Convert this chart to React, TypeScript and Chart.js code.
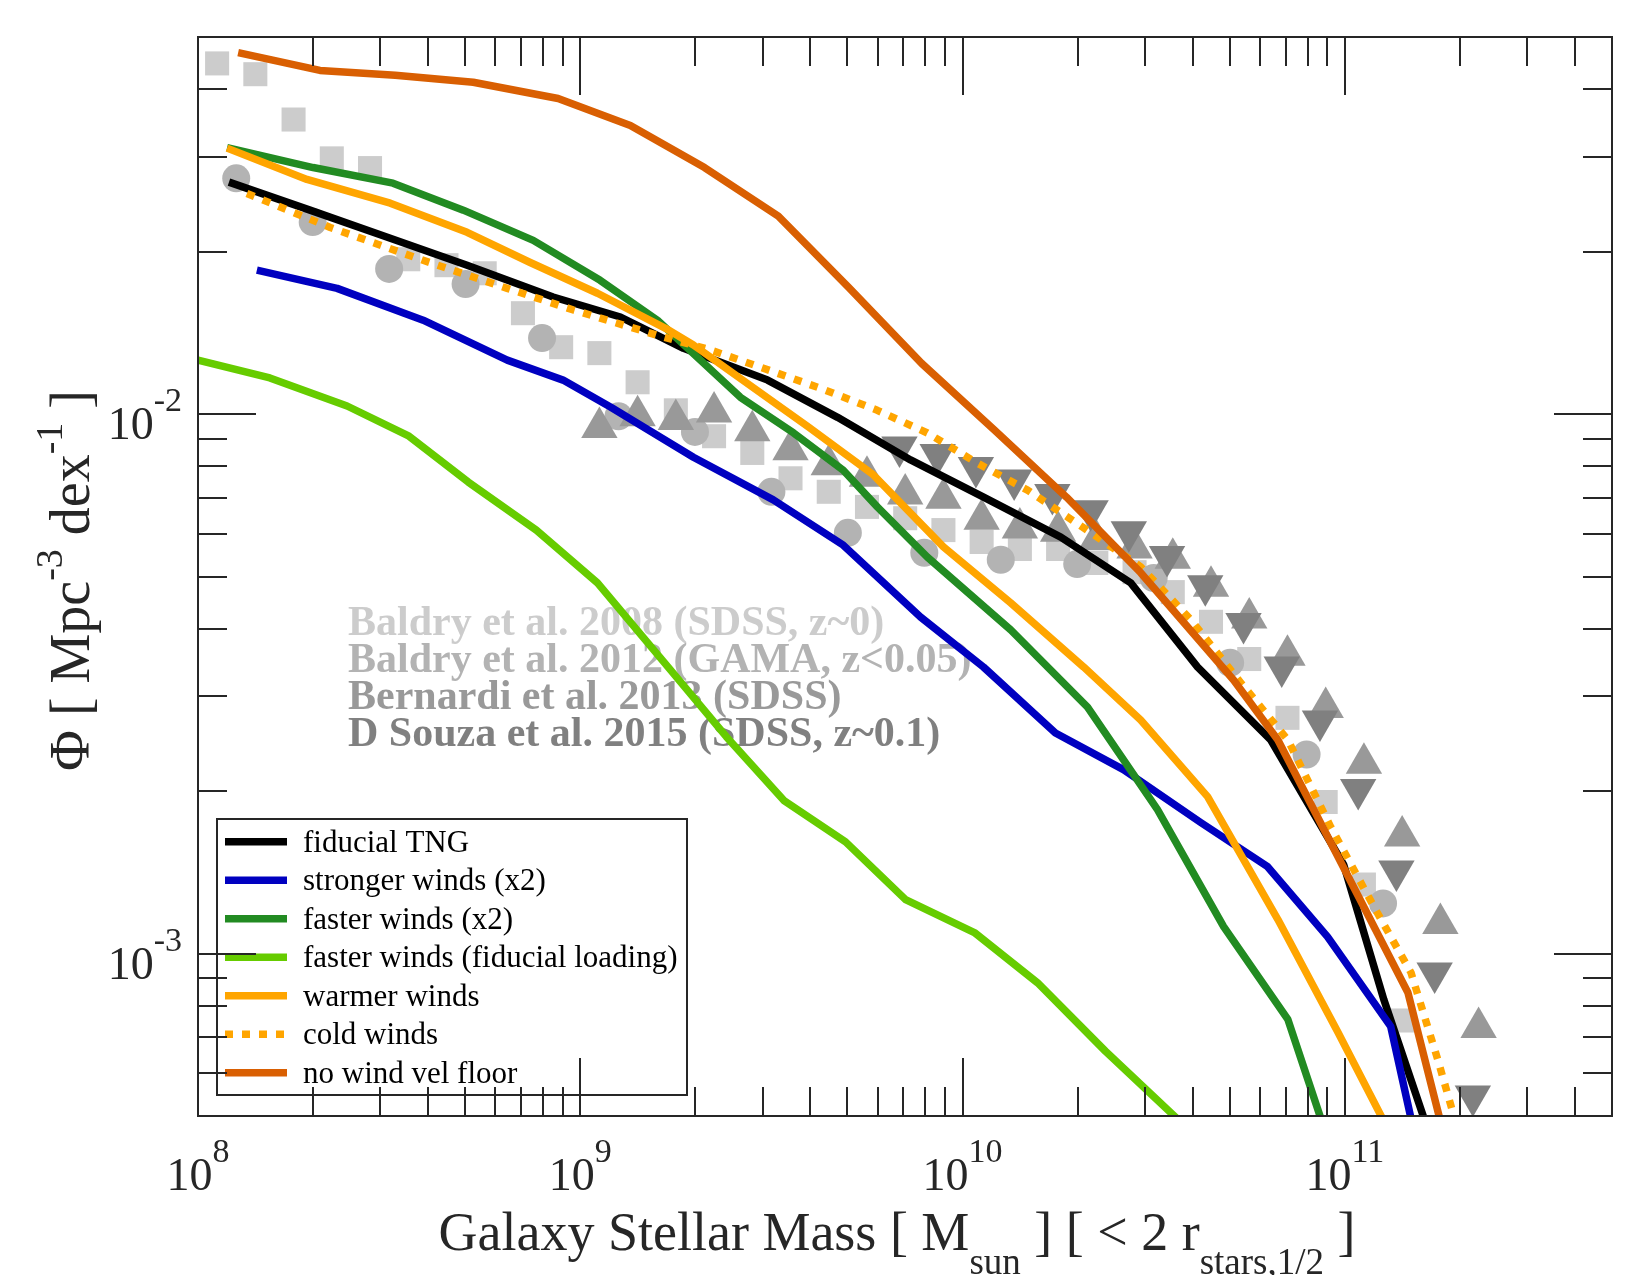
import { useEffect, useRef } from 'react';
import { Chart, registerables } from 'chart.js';

Chart.register(...registerables);

const SERIF = '"Liberation Serif", "Times New Roman", serif';

// ---- simulation runs: log10 M* [Msun] and log10 Phi [Mpc^-3 dex^-1] ----
const fiducialLogM = [8.081, 8.293, 8.503, 8.704, 8.929, 9.105, 9.27, 9.49, 9.673, 9.864, 10.055, 10.257, 10.44, 10.615, 10.806, 10.997, 11.102, 11.207];
const fiducialLogPhi = [-1.57, -1.622, -1.674, -1.724, -1.783, -1.82, -1.878, -1.937, -2.006, -2.085, -2.154, -2.228, -2.313, -2.469, -2.604, -2.835, -3.085, -3.305];

const strongerLogM = [8.154, 8.364, 8.589, 8.809, 8.955, 9.079, 9.296, 9.505, 9.688, 9.89, 10.055, 10.243, 10.421, 10.623, 10.798, 10.955, 11.12, 11.173];
const strongerLogPhi = [-1.733, -1.767, -1.826, -1.9, -1.937, -1.987, -2.08, -2.159, -2.243, -2.376, -2.469, -2.591, -2.659, -2.757, -2.839, -2.969, -3.135, -3.305];

const fasterLogM = [8.076, 8.301, 8.51, 8.694, 8.877, 9.052, 9.202, 9.419, 9.558, 9.688, 9.777, 9.908, 10.126, 10.327, 10.51, 10.683, 10.851, 10.937];
const fasterLogPhi = [-1.506, -1.543, -1.572, -1.622, -1.678, -1.752, -1.826, -1.969, -2.035, -2.104, -2.172, -2.265, -2.4, -2.543, -2.733, -2.95, -3.122, -3.305];

const fasterFidLoadLogM = [8.0, 8.188, 8.39, 8.552, 8.707, 8.885, 9.045, 9.243, 9.382, 9.534, 9.694, 9.851, 10.031, 10.196, 10.374, 10.56];
const fasterFidLoadLogPhi = [-1.9, -1.933, -1.985, -2.041, -2.126, -2.215, -2.313, -2.48, -2.598, -2.717, -2.793, -2.9, -2.961, -3.054, -3.181, -3.305];

const warmerLogM = [8.076, 8.285, 8.503, 8.704, 8.869, 9.045, 9.223, 9.296, 9.597, 9.764, 9.95, 10.126, 10.317, 10.466, 10.641, 10.825, 10.982, 11.098];
const warmerLogPhi = [-1.507, -1.565, -1.609, -1.663, -1.719, -1.776, -1.841, -1.872, -2.024, -2.111, -2.246, -2.35, -2.469, -2.567, -2.709, -2.937, -3.146, -3.305];

const coldLogM = [8.128, 8.346, 8.589, 8.809, 8.982, 9.202, 9.34, 9.471, 9.628, 9.777, 9.908, 10.039, 10.17, 10.317, 10.466, 10.597, 10.728, 10.851, 10.963, 11.076, 11.173, 11.243, 11.287];
const coldLogPhi = [-1.591, -1.654, -1.715, -1.767, -1.807, -1.854, -1.881, -1.913, -1.952, -1.993, -2.035, -2.091, -2.141, -2.211, -2.283, -2.381, -2.498, -2.604, -2.765, -2.913, -3.035, -3.196, -3.305];

const noVelFloorLogM = [8.105, 8.319, 8.516, 8.72, 8.942, 9.131, 9.325, 9.518, 9.702, 9.893, 10.084, 10.272, 10.466, 10.709, 10.825, 11.165, 11.248];
const noVelFloorLogPhi = [-1.33, -1.363, -1.372, -1.385, -1.415, -1.465, -1.543, -1.633, -1.765, -1.906, -2.03, -2.154, -2.294, -2.493, -2.604, -3.072, -3.305];

// ---- observational stellar mass functions ----
const baldry08LogM = [8.05, 8.15, 8.25, 8.35, 8.45, 8.55, 8.65, 8.75, 8.85, 8.95, 9.05, 9.15, 9.25, 9.35, 9.45, 9.55, 9.65, 9.75, 9.85, 9.95, 10.05, 10.15, 10.25, 10.35, 10.45, 10.55, 10.65, 10.75, 10.85, 10.95, 11.05, 11.15];
const baldry08LogPhi = [-1.35, -1.37, -1.454, -1.526, -1.544, -1.713, -1.724, -1.739, -1.813, -1.876, -1.887, -1.941, -1.993, -2.041, -2.072, -2.119, -2.144, -2.172, -2.193, -2.215, -2.237, -2.25, -2.25, -2.276, -2.293, -2.33, -2.385, -2.454, -2.563, -2.719, -2.872, -3.124];

const baldry12LogM = [8.1, 8.3, 8.5, 8.7, 8.9, 9.1, 9.3, 9.5, 9.7, 9.9, 10.1, 10.3, 10.5, 10.7, 10.9, 11.1];
const baldry12LogPhi = [-1.563, -1.644, -1.731, -1.759, -1.859, -2.004, -2.033, -2.144, -2.22, -2.257, -2.27, -2.278, -2.304, -2.461, -2.631, -2.907];

const bernardi13LogM = [9.05, 9.15, 9.25, 9.35, 9.45, 9.55, 9.65, 9.75, 9.85, 9.95, 10.05, 10.15, 10.25, 10.35, 10.45, 10.55, 10.65, 10.75, 10.85, 10.95, 11.05, 11.15, 11.25, 11.35];
const bernardi13LogPhi = [-2.025, -2.003, -2.01, -1.996, -2.031, -2.066, -2.094, -2.115, -2.148, -2.156, -2.195, -2.211, -2.217, -2.233, -2.248, -2.267, -2.319, -2.378, -2.447, -2.544, -2.647, -2.782, -2.944, -3.137];

const dsouza15LogM = [9.835, 9.935, 10.035, 10.135, 10.235, 10.335, 10.435, 10.535, 10.635, 10.735, 10.835, 10.935, 11.035, 11.135, 11.235, 11.335];
const dsouza15LogPhi = [-2.061, -2.075, -2.099, -2.122, -2.149, -2.179, -2.218, -2.264, -2.318, -2.388, -2.469, -2.569, -2.696, -2.847, -3.036, -3.264];

// ---- labels and axis ticks ----
const runLabels = ['fiducial TNG', 'stronger winds (x2)', 'faster winds (x2)', 'faster winds (fiducial loading)', 'warmer winds', 'cold winds', 'no wind vel floor'];
const runColors = ['#000000', '#0000c0', '#228b22', '#66cc00', '#ffa500', '#ffa500', '#d95f02'];
const obsLabels = ['Baldry et al. 2008 (SDSS, z~0)', 'Baldry et al. 2012 (GAMA, z<0.05)', 'Bernardi et al. 2013 (SDSS)', 'D Souza et al. 2015 (SDSS, z~0.1)'];
const obsColors = ['#cccccc', '#b3b3b3', '#999999', '#808080'];
const xMajorTicks = [1e8, 1e9, 1e10, 1e11];
const yMajorTicks = [1e-3, 1e-2];
const X_MIN = 1e8;
const X_MAX = 5e11;
const Y_MIN = 5e-4;
const Y_MAX = 5e-2;

const LINE_W = 7.5;

const toXY = (lm: number[], lp: number[]) => lm.map((m, i) => ({ x: Math.pow(10, m), y: Math.pow(10, lp[i]) }));

const runData = [
  toXY(fiducialLogM, fiducialLogPhi),
  toXY(strongerLogM, strongerLogPhi),
  toXY(fasterLogM, fasterLogPhi),
  toXY(fasterFidLoadLogM, fasterFidLoadLogPhi),
  toXY(warmerLogM, warmerLogPhi),
  toXY(coldLogM, coldLogPhi),
  toXY(noVelFloorLogM, noVelFloorLogPhi),
];
const DOTTED = [8, 9];
const runDash = [[], [], [], [], [], DOTTED, []];

type Run = { text: string; size: number; dy: number };

function drawRuns(ctx: CanvasRenderingContext2D, runs: Run[], x: number, y: number, align: 'left' | 'center' | 'right', weight = 'normal') {
  let total = 0;
  const widths = runs.map((r) => {
    ctx.font = `${weight} ${r.size}px ${SERIF}`;
    const w = ctx.measureText(r.text).width;
    total += w;
    return w;
  });
  let cx = align === 'center' ? x - total / 2 : align === 'right' ? x - total : x;
  ctx.textAlign = 'left';
  ctx.textBaseline = 'alphabetic';
  runs.forEach((r, i) => {
    ctx.font = `${weight} ${r.size}px ${SERIF}`;
    ctx.fillText(r.text, cx, y + r.dy);
    cx += widths[i];
  });
}

function logTicks(min: number, max: number) {
  const out: { v: number; major: boolean }[] = [];
  for (let e = Math.floor(Math.log10(min)); e <= Math.ceil(Math.log10(max)); e++) {
    for (let m = 1; m <= 9; m++) {
      const v = m * Math.pow(10, e);
      if (v > min * 1.0001 && v < max * 0.9999) out.push({ v, major: m === 1 });
    }
  }
  return out;
}

const FRAME = '#262626';

const framePlugin = {
  id: 'smfFrame',
  beforeDatasetsDraw(chart: any) {
    const { ctx, chartArea } = chart;
    ctx.save();
    obsLabels.forEach((t, i) => {
      ctx.fillStyle = obsColors[i];
      drawRuns(ctx, [{ text: t, size: 42, dy: 0 }], chartArea.left + 150, chartArea.top + 598 + i * 37, 'left', 'bold');
    });
    ctx.restore();
  },
  afterDatasetsDraw(chart: any) {
    const { ctx, chartArea } = chart;
    const { left, right, top, bottom } = chartArea;
    const xs = chart.scales.x;
    const ys = chart.scales.y;
    ctx.save();

    // legend box
    const lx0 = left + 19;
    const lx1 = left + 489;
    const ly0 = bottom - 297;
    const ly1 = bottom - 21;
    ctx.fillStyle = '#ffffff';
    ctx.fillRect(lx0, ly0, lx1 - lx0, ly1 - ly0);
    ctx.strokeStyle = FRAME;
    ctx.lineWidth = 2;
    ctx.strokeRect(lx0, ly0, lx1 - lx0, ly1 - ly0);
    runLabels.forEach((lab, i) => {
      const cy = ly0 + 22.7 + i * 38.5;
      ctx.save();
      ctx.strokeStyle = runColors[i];
      ctx.lineWidth = LINE_W;
      ctx.lineCap = 'butt';
      ctx.setLineDash(runDash[i]);
      ctx.beginPath();
      ctx.moveTo(lx0 + 8, cy);
      ctx.lineTo(lx0 + 70, cy);
      ctx.stroke();
      ctx.restore();
      ctx.fillStyle = '#000000';
      drawRuns(ctx, [{ text: lab, size: 31, dy: 0 }], lx0 + 86, cy + 10, 'left');
    });

    // axes box and ticks
    ctx.strokeStyle = FRAME;
    ctx.lineWidth = 2;
    ctx.setLineDash([]);
    ctx.strokeRect(left, top, right - left, bottom - top);
    ctx.beginPath();
    logTicks(X_MIN, X_MAX).forEach(({ v, major }) => {
      const px = Math.round(xs.getPixelForValue(v));
      const len = major ? 58 : 29;
      ctx.moveTo(px, bottom);
      ctx.lineTo(px, bottom - len);
      ctx.moveTo(px, top);
      ctx.lineTo(px, top + len);
    });
    logTicks(Y_MIN, Y_MAX).forEach(({ v, major }) => {
      const py = Math.round(ys.getPixelForValue(v));
      const len = major ? 58 : 29;
      ctx.moveTo(left, py);
      ctx.lineTo(left + len, py);
      ctx.moveTo(right, py);
      ctx.lineTo(right - len, py);
    });
    ctx.stroke();

    // tick labels
    ctx.fillStyle = FRAME;
    xMajorTicks.forEach((v) => {
      const px = xs.getPixelForValue(v);
      const e = Math.round(Math.log10(v));
      drawRuns(ctx, [{ text: '10', size: 46, dy: 0 }, { text: String(e), size: 34, dy: -28 }], px, bottom + 74, 'center');
    });
    yMajorTicks.forEach((v) => {
      const py = ys.getPixelForValue(v);
      const e = Math.round(Math.log10(v));
      drawRuns(ctx, [{ text: '10', size: 46, dy: 0 }, { text: String(e), size: 34, dy: -28 }], left - 16, py + 25, 'right');
    });

    // axis titles
    drawRuns(
      ctx,
      [
        { text: 'Galaxy Stellar Mass [ M', size: 54, dy: 0 },
        { text: 'sun', size: 37, dy: 24 },
        { text: ' ] [ < 2 r', size: 54, dy: 0 },
        { text: 'stars,1/2', size: 37, dy: 24 },
        { text: ' ]', size: 54, dy: 0 },
      ],
      (left + right) / 2 - 8,
      bottom + 134,
      'center'
    );
    ctx.save();
    ctx.translate(89, (top + bottom) / 2 + 4);
    ctx.rotate(-Math.PI / 2);
    drawRuns(
      ctx,
      [
        { text: '\u03A6 [ Mpc', size: 56, dy: 0 },
        { text: '-3', size: 38, dy: -27 },
        { text: ' dex', size: 56, dy: 0 },
        { text: '-1', size: 38, dy: -27 },
        { text: ' ]', size: 56, dy: 0 },
      ],
      0,
      0,
      'center'
    );
    ctx.restore();
    ctx.restore();
  },
};

export default function App() {
  const ref = useRef<HTMLCanvasElement>(null);

  useEffect(() => {
    const canvas = ref.current;
    if (!canvas) return;

    const markerSets = [
      { data: toXY(baldry08LogM, baldry08LogPhi), style: 'rect', radius: 17, rotation: 0, order: 20 },
      { data: toXY(baldry12LogM, baldry12LogPhi), style: 'circle', radius: 14, rotation: 0, order: 19 },
      { data: toXY(bernardi13LogM, bernardi13LogPhi), style: 'triangle', radius: 21, rotation: 0, order: 18 },
      { data: toXY(dsouza15LogM, dsouza15LogPhi), style: 'triangle', radius: 21, rotation: 180, order: 17 },
    ].map((m, i) => ({
      label: obsLabels[i],
      data: m.data,
      showLine: false,
      pointStyle: m.style,
      pointRadius: m.radius,
      pointHoverRadius: m.radius,
      pointRotation: m.rotation,
      pointBackgroundColor: obsColors[i],
      pointBorderWidth: 0,
      borderWidth: 0,
      order: m.order,
      clip: 0,
    }));

    const lineSets = runData.map((d, i) => ({
      label: runLabels[i],
      data: d,
      borderColor: runColors[i],
      borderWidth: LINE_W,
      borderDash: runDash[i],
      borderCapStyle: 'butt',
      borderJoinStyle: 'round',
      pointRadius: 0,
      pointHoverRadius: 0,
      tension: 0,
      fill: false,
      order: 7 - i,
      clip: 0,
    }));

    const chart = new Chart(canvas, {
      type: 'line',
      data: { datasets: [...lineSets, ...markerSets] as any },
      options: {
        responsive: false,
        animation: false,
        devicePixelRatio: 1,
        events: [],
        layout: { padding: { left: 198, right: 38, top: 37, bottom: 159 } },
        scales: {
          x: { type: 'logarithmic', min: X_MIN, max: X_MAX, display: false },
          y: { type: 'logarithmic', min: Y_MIN, max: Y_MAX, display: false },
        },
        plugins: { legend: { display: false }, tooltip: { enabled: false } },
      },
      plugins: [framePlugin],
    });

    return () => chart.destroy();
  }, []);

  return (
    <div style={{ position: 'fixed', left: 0, top: 0, width: 1650, height: 1275, background: '#ffffff' }}>
      <canvas ref={ref} width={1650} height={1275} style={{ display: 'block', width: 1650, height: 1275 }} />
    </div>
  );
}
